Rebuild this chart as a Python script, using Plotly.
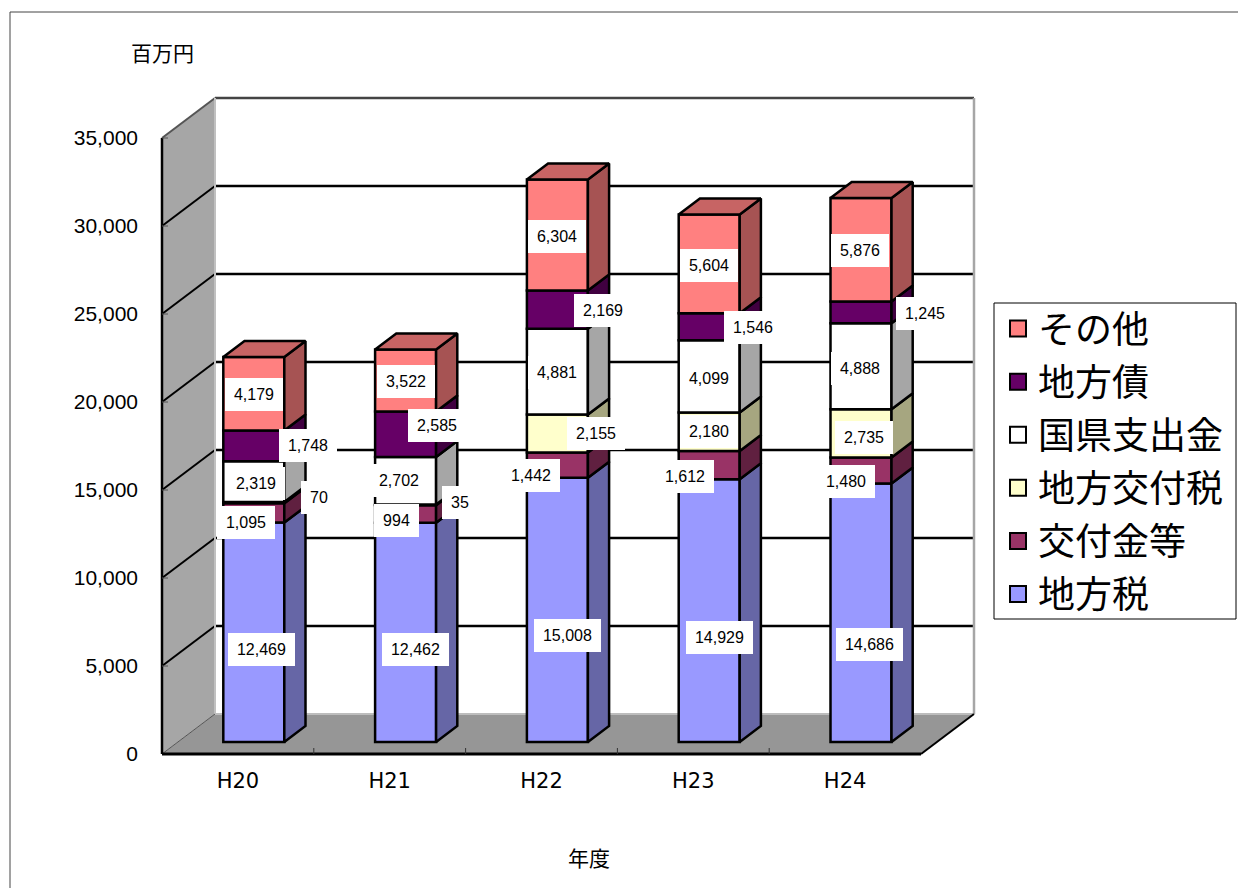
import plotly.graph_objects as go

# Revenue by source, million yen, stacked bottom to top
years = ["H20", "H21", "H22", "H23", "H24"]
series_names = ["地方税", "交付金等", "地方交付税", "国県支出金", "地方債", "その他"]
chihozei = [12469, 12462, 15008, 14929, 14686]
kofukin = [1095, 994, 1442, 1612, 1480]
kofuzei = [70, 35, 2155, 2180, 2735]
shishutsu = [2319, 2702, 4881, 4099, 4888]
chihosai = [1748, 2585, 2169, 1546, 1245]
sonota = [4179, 3522, 6304, 5604, 5876]
series_values = [chihozei, kofukin, kofuzei, shishutsu, chihosai, sonota]
y_ticks = [0, 5000, 10000, 15000, 20000, 25000, 30000, 35000]

front_colors = ["#9999FF", "#993366", "#FFFFCC", "#FFFFFF", "#660066", "#FF8080"]
side_colors = ["#6666A6", "#602040", "#A6A680", "#A6A6A6", "#400040", "#A65353"]
top_color = "#C76464"

# Label nudges in pixels from the centre of each front face: (right, down), per series per year
label_nudges = [
    [(8, 17), (10, 17), (10, 26), (10, 27), (8, 32)],
    [(-8, 10), (-9, 7), (-26, 10), (-24, 11), (-15, 11)],
    [(65, -5), (54, -2), (39, 0), (0, 0), (3, 4)],
    [(2, 2), (-7, 0), (0, 1), (0, 2), (-1, 2)],
    [(54, 0), (31, -9), (46, 1), (44, 1), (64, 1)],
    [(0, 1), (0, 1), (0, 2), (0, 2), (-1, 1)],
]

W, H = 1238, 888
X0_PX, Y0_PX = 162, 754        # front-left floor corner
CAT_PX = 151.8                 # width of one category
VAL_PX = 0.0176                # pixels per million yen
DOM_L, DOM_R, DOM_T, DOM_B = 150, 985, 90, 766

# Oblique projection: depth expressed in axis units
DEPTH_X = 53 / CAT_PX
DEPTH_Y = 40 / VAL_PX
BAR_W = 61 / CAT_PX
BAR_FRONT = 0.3                # front of the columns, as a share of floor depth
BAR_BACK = 0.7
EDGE = 2.5                     # outline weight for columns and gridlines


def depth_x(share):
    return DEPTH_X * share


def depth_y(share):
    return DEPTH_Y * share


fig = go.Figure()
shapes = []


def poly_path(points):
    return "M" + "L".join(f"{x},{y}" for x, y in points) + "Z"


def add_shape_poly(points, fill):
    shapes.append(dict(type="path", path=poly_path(points), fillcolor=fill,
                       line=dict(width=0), layer="below", xref="x", yref="y"))


def add_shape_line(a, b, color, width):
    shapes.append(dict(type="line", x0=a[0], y0=a[1], x1=b[0], y1=b[1], layer="below",
                       xref="x", yref="y", line=dict(color=color, width=width)))


n = len(years)
top = y_ticks[-1]

# Floor and left wall
add_shape_poly([(0, 0), (n, 0), (n + DEPTH_X, DEPTH_Y), (DEPTH_X, DEPTH_Y)], "#969696")
add_shape_poly([(0, 0), (0, top), (DEPTH_X, top + DEPTH_Y), (DEPTH_X, DEPTH_Y)], "#A6A6A6")

# Gridlines run across the back wall and down the left wall
for v in y_ticks[1:-1]:
    add_shape_line((0, v), (DEPTH_X, v + DEPTH_Y), "#000000", 2)
    add_shape_line((DEPTH_X, v + DEPTH_Y), (n + DEPTH_X, v + DEPTH_Y), "#000000", EDGE)

# Wall outlines
add_shape_line((0, top), (DEPTH_X, top + DEPTH_Y), "#555555", 2)
add_shape_line((DEPTH_X, top + DEPTH_Y), (n + DEPTH_X, top + DEPTH_Y), "#444444", EDGE)
add_shape_line((n + DEPTH_X, DEPTH_Y), (n + DEPTH_X, top + DEPTH_Y), "#A6A6A6", EDGE)
add_shape_line((DEPTH_X, DEPTH_Y), (DEPTH_X, top + DEPTH_Y), "#C0C0C0", 2)
add_shape_line((DEPTH_X, DEPTH_Y), (n + DEPTH_X, DEPTH_Y), "#BDBDBD", 2)
add_shape_line((0, 0), (DEPTH_X, DEPTH_Y), "#555555", 1)
add_shape_line((n, 0), (n + DEPTH_X, DEPTH_Y), "#000000", 2)

# Axis lines and tick marks
add_shape_line((0, 0), (0, top), "#000000", EDGE)
add_shape_line((0, 0), (n, 0), "#000000", 3)
for i in range(1, n):
    add_shape_line((i, 0), (i, 6 / VAL_PX), "#333333", 1)
for v in y_ticks[1:]:
    add_shape_line((0, v), (6 / CAT_PX, v), "#555555", 1)

centres = [i + 0.5 + depth_x(BAR_FRONT) for i in range(n)]
lift = depth_y(BAR_FRONT)

# Running totals for the stacks
cumulative = []
running = [0] * n
for values in series_values:
    cumulative.append(list(running))
    running = [r + v for r, v in zip(running, values)]
totals = running

# Column front faces
for name, values, bases, color in zip(series_names, series_values, cumulative, front_colors):
    fig.add_trace(go.Bar(
        x=centres, y=values, base=[b + lift for b in bases], width=BAR_W, name=name,
        marker=dict(color=color, line=dict(color="#000000", width=EDGE)),
        showlegend=False, hoverinfo="skip",
    ))

side_dx = depth_x(BAR_BACK - BAR_FRONT)
side_dy = depth_y(BAR_BACK - BAR_FRONT)

# Column side faces
for values, bases, color in zip(series_values, cumulative, side_colors):
    for c, b, v in zip(centres, bases, values):
        xr = c + BAR_W / 2
        y0, y1 = b + lift, b + v + lift
        fig.add_trace(go.Scatter(
            x=[xr, xr + side_dx, xr + side_dx, xr, xr],
            y=[y0, y0 + side_dy, y1 + side_dy, y1, y0],
            mode="lines", fill="toself", fillcolor=color,
            line=dict(color="#000000", width=EDGE), showlegend=False, hoverinfo="skip",
        ))

# Column top faces
for c, t in zip(centres, totals):
    xl, xr = c - BAR_W / 2, c + BAR_W / 2
    yt = t + lift
    fig.add_trace(go.Scatter(
        x=[xl, xr, xr + side_dx, xl + side_dx, xl],
        y=[yt, yt, yt + side_dy, yt + side_dy, yt],
        mode="lines", fill="toself", fillcolor=top_color,
        line=dict(color="#000000", width=EDGE), showlegend=False, hoverinfo="skip",
    ))

# Legend entries, last series first
for name, color in zip(reversed(series_names), reversed(front_colors)):
    fig.add_trace(go.Scatter(
        x=[None], y=[None], mode="markers", name=name, legendgroup=name,
        marker=dict(symbol="square", size=16, color=color, line=dict(color="#000000", width=2)),
    ))

# Value labels on white plates
annotations = []
for values, bases, nudges in zip(series_values, cumulative, label_nudges):
    for c, b, v, (nx, ny) in zip(centres, bases, values, nudges):
        text = f"{v:,}"
        plate = {2: 36, 3: 45, 5: 58, 6: 67}[len(text)]
        annotations.append(dict(
            x=c, y=b + v / 2 + lift, xref="x", yref="y", text=text, showarrow=False,
            xshift=nx, yshift=-ny, width=plate, height=33, bgcolor="#FFFFFF", borderpad=0,
            borderwidth=0, align="center", valign="middle",
            font=dict(family="Liberation Sans", size=16, color="#000000"),
        ))

# Unit and axis captions
cjk = "Noto Sans CJK JP"
annotations.append(dict(x=162 / W, y=1 - 52 / H, xref="paper", yref="paper", text="百万円",
                        xanchor="center", yanchor="middle", showarrow=False,
                        font=dict(family=cjk, size=21, color="#000000")))
annotations.append(dict(x=589 / W, y=1 - 857 / H, xref="paper", yref="paper", text="年度",
                        xanchor="center", yanchor="middle", showarrow=False,
                        font=dict(family=cjk, size=21, color="#000000")))

# Chart frame, open on the right and at the bottom
frame = dict(type="path", path=f"M{10 / W},0L{10 / W},{1 - 12 / H}L1,{1 - 12 / H}",
             xref="paper", yref="paper", line=dict(color="#444444", width=1), layer="below")

# Legend panel
panel = dict(type="rect", x0=994 / W, x1=1236 / W, y0=1 - 619 / H, y1=1 - 303 / H,
             xref="paper", yref="paper", fillcolor="#FFFFFF",
             line=dict(color="#000000", width=1), layer="below")

fig.update_layout(
    width=W, height=H, margin=dict(l=0, r=0, t=0, b=0), autosize=False,
    paper_bgcolor="#FFFFFF", plot_bgcolor="rgba(0,0,0,0)",
    barmode="overlay", shapes=[frame, panel] + shapes, annotations=annotations, hovermode=False,
    xaxis=dict(
        domain=[DOM_L / W, DOM_R / W],
        range=[(DOM_L - X0_PX) / CAT_PX, (DOM_R - X0_PX) / CAT_PX],
        tickmode="array", tickvals=[i + 0.5 for i in range(n)], ticktext=years,
        ticks="", showgrid=False, zeroline=False, showline=False, ticklabelstandoff=0,
        tickfont=dict(family="DejaVu Sans", size=21, color="#000000"),
    ),
    yaxis=dict(
        domain=[1 - DOM_B / H, 1 - DOM_T / H],
        range=[(Y0_PX - DOM_B) / VAL_PX, (Y0_PX - DOM_T) / VAL_PX],
        tickmode="array", tickvals=y_ticks, tickformat=",",
        ticks="", showgrid=False, zeroline=False, showline=False, ticklabelstandoff=11,
        tickfont=dict(family="Liberation Sans", size=21, color="#000000"),
    ),
    legend=dict(
        x=998 / W, y=1 - 298 / H, xanchor="left", yanchor="top",
        bgcolor="rgba(0,0,0,0)", borderwidth=0,
        font=dict(family=cjk, size=37, color="#000000"),
        tracegroupgap=2, itemwidth=30,
        itemclick=False, itemdoubleclick=False,
    ),
)

fig.write_html("out.html")
